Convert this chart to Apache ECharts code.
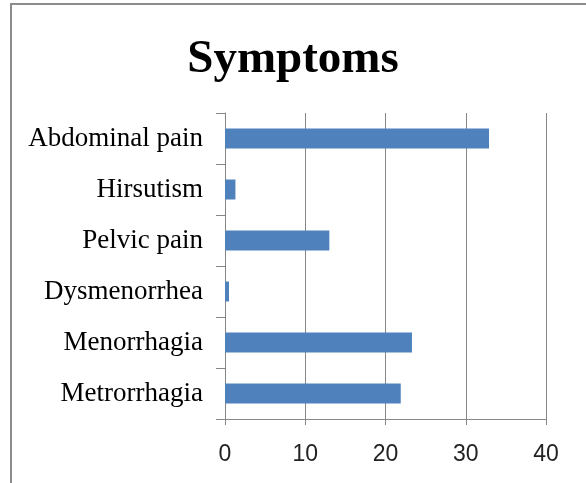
<!DOCTYPE html>
<html>
<head>
<meta charset="utf-8">
<script src="https://cdn.jsdelivr.net/npm/echarts@6/dist/echarts.min.js"></script>
<style>
html,body{margin:0;padding:0;background:#fff;}
#chart{width:586px;height:483px;}
</style>
</head>
<body>
<div id="chart"></div>
<script>
/* ---------- data ---------- */
const symptoms=["Metrorrhagia","Menorrhagia","Dysmenorrhea","Pelvic pain","Hirsutism","Abdominal pain"];
const counts=[21.9,23.3,0.5,13,1.3,32.9];
const xTicks=[0,10,20,30,40];

/* ---------- chart ---------- */
let chart=echarts.init(document.getElementById("chart"));

chart.setOption({
  animation:false,
  backgroundColor:"#fff",
  graphic:[{
    type:"rect",
    shape:{x:11,y:4,width:620,height:520},
    style:{fill:"none",stroke:"#8c8c8c",lineWidth:2}
  }],
  title:{
    text:"Symptoms",
    left:"center",
    top:31,
    textStyle:{fontFamily:"Liberation Serif",fontWeight:"bold",fontSize:47,color:"#000"}
  },
  grid:{left:225,right:40,top:113,bottom:64,containLabel:false},
  xAxis:{
    type:"value",
    min:xTicks[0],
    max:xTicks[xTicks.length-1],
    interval:10,
    axisLine:{show:true,lineStyle:{color:"#868686",width:1}},
    axisTick:{show:true,length:6,lineStyle:{color:"#868686"}},
    splitLine:{show:true,lineStyle:{color:"#868686",width:1}},
    axisLabel:{margin:24,fontFamily:"Liberation Sans",fontSize:23,color:"#222"}
  },
  yAxis:{
    type:"category",
    data:symptoms,
    axisLine:{show:true,lineStyle:{color:"#868686",width:1}},
    axisTick:{show:true,length:9,lineStyle:{color:"#868686"}},
    axisLabel:{margin:22,fontFamily:"Liberation Serif",fontSize:27,color:"#000"}
  },
  series:[{
    type:"bar",
    data:counts,
    barWidth:20,
    itemStyle:{color:"#4F81BD"}
  }]
});
</script>
</body>
</html>
